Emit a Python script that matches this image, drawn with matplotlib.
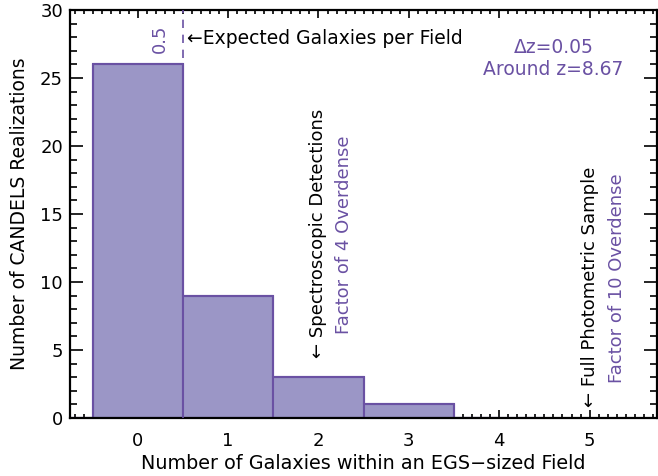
import matplotlib
matplotlib.use('Agg')
import matplotlib.pyplot as plt
from matplotlib.ticker import MultipleLocator

plt.rcParams['font.family'] = 'DejaVu Sans'

# histogram of realizations (bin centres incl. the empty outer bins)
bin_centers = [-1, 0, 1, 2, 3, 4]
realizations = [0, 26, 9, 3, 1, 0]
expected = 0.5

fill_col = '#9B96C6'
edge_col = '#6A51A3'

fig = plt.figure(figsize=(6.58, 4.76), dpi=100)
ax = fig.add_axes([0.1064, 0.1218, 0.8926, 0.8572])

# filled bars with outlines, drawn over the inward ticks
ax.bar(bin_centers, realizations, width=1.0, color=fill_col,
       edgecolor=edge_col, linewidth=1.5, zorder=2)
ax.step(bin_centers, realizations, where='mid', color=edge_col,
        linewidth=1.5, zorder=2.2)

# expected number per field
ax.axvline(expected, color=edge_col, linestyle=(0, (5, 4)), linewidth=1.2,
           zorder=3)
ax.text(expected - 0.255, 27.9, f'{expected}', rotation=90, color=edge_col,
        fontsize=13, ha='center', va='center')
ax.text(expected + 0.04, 27.9, '\u2190Expected Galaxies per Field',
        fontsize=13.5, ha='left', va='center')

ax.text(4.6, 27.25, '\u0394z=0.05', color=edge_col, fontsize=13.5,
        ha='center', va='center')
ax.text(4.6, 25.6, 'Around z=8.67', color=edge_col, fontsize=13.5,
        ha='center', va='center')

ax.text(2.0, 4.4, '\u2190 Spectroscopic Detections', rotation=90,
        fontsize=13, ha='center', va='bottom')
ax.text(2.28, 6.2, 'Factor of 4 Overdense', rotation=90, color=edge_col,
        fontsize=13, ha='center', va='bottom')
ax.text(5.0, 0.8, '\u2190 Full Photometric Sample', rotation=90,
        fontsize=13, ha='center', va='bottom')
ax.text(5.3, 2.6, 'Factor of 10 Overdense', rotation=90, color=edge_col,
        fontsize=13, ha='center', va='bottom')

ax.set_xlim(-0.75, 5.75)
ax.set_ylim(0, 30)

ax.xaxis.set_major_locator(MultipleLocator(1))
ax.xaxis.set_minor_locator(MultipleLocator(0.1))
ax.yaxis.set_major_locator(MultipleLocator(5))
ax.yaxis.set_minor_locator(MultipleLocator(1))

ax.tick_params(axis='x', which='major', direction='in', length=5.8,
               width=1.2, top=True, labelsize=13, pad=10)
ax.tick_params(axis='x', which='minor', direction='in', length=2.9,
               width=1.2, top=True)
ax.tick_params(axis='y', which='major', direction='in', length=9.4,
               width=1.2, right=True, labelsize=13, pad=5)
ax.tick_params(axis='y', which='minor', direction='in', length=5,
               width=1.2, right=True)

for sp in ax.spines.values():
    sp.set_linewidth(1.6)

ax.set_xlabel('Number of Galaxies within an EGS\u2212sized Field',
              fontsize=13.8, labelpad=3)
ax.set_ylabel('Number of CANDELS Realizations', fontsize=13.5, labelpad=8)

fig.savefig('out.png', dpi=100)
